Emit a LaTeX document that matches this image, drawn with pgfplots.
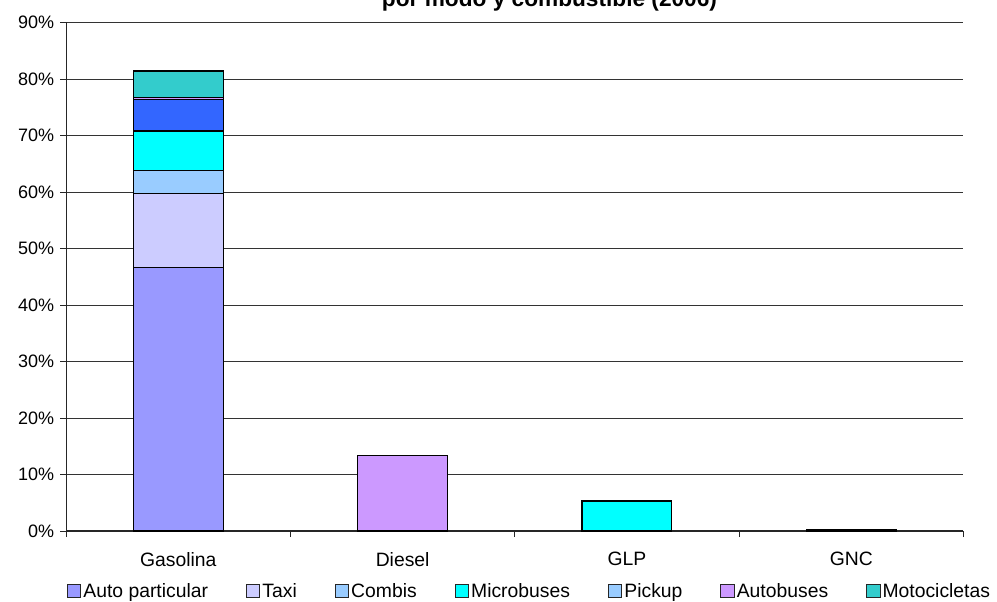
\documentclass[border=0pt]{standalone}
\usepackage{pgfplots}
\pgfplotsset{compat=1.18}
\usepackage{fontspec}
\setmainfont{Liberation Sans}
\definecolor{cAuto}{HTML}{9999FF}
\definecolor{cTaxi}{HTML}{CCCCFF}
\definecolor{cCombis}{HTML}{99CCFF}
\definecolor{cMicro}{HTML}{00FFFF}
\definecolor{cPickup}{HTML}{3366FF}
\definecolor{cAutob}{HTML}{CC99FF}
\definecolor{cMoto}{HTML}{33CCCC}
\begin{document}
\begin{tikzpicture}
\path[use as bounding box] (0pt,0pt) rectangle (747.75pt,450.75pt);
\begin{axis}[
  at={(49.65pt,52.5pt)}, anchor=south west,
  scale only axis, width=672.9pt, height=381.4pt,
  ybar stacked, bar width=0.4,
  xmin=-0.5, xmax=3.5, ymin=0, ymax=90,
  xtick={0,1,2,3}, xticklabels={Gasolina,Diesel,GLP,GNC},
  major x tick style={draw=none},
  minor xtick={-0.5,0.5,1.5,2.5,3.5},
  ytick={0,10,...,90},
  yticklabel={\pgfmathprintnumber{\tick}\%},
  /pgf/number format/assume math mode=true,
  ymajorgrids, grid style={black!80, line width=0.6pt},
  axis x line*=bottom, axis y line*=left,
  axis line style={black!85, line width=0.8pt, -},
  tick align=outside,
  major tick length=4.5pt, minor tick length=4.5pt,
  tick style={black!85, line width=0.7pt},
  xticklabel style={font=\fontsize{14.5}{17}\selectfont, yshift=-8pt},
  yticklabel style={font=\fontsize{13.5}{16}\selectfont, xshift=-1pt},
  every axis plot/.append style={draw=black, line width=0.9pt},
  legend columns=-1,
  legend style={draw=none, at={(0.5164,-0.118)}, anchor=center,
    font=\fontsize{14.5}{17}\selectfont,
    nodes={inner xsep=1.5pt},
    /tikz/every even column/.append style={column sep=27pt}},
  legend image code/.code={\draw[#1,draw=black!85,line width=0.8pt] (-1pt,-5pt) rectangle (9pt,5pt);},
]
\addplot[fill=cAuto]   coordinates {(0,46.6) (1,0) (2,0) (3,0.1)};
\addplot[fill=cTaxi]   coordinates {(0,13.2) (1,0) (2,0) (3,0.2)};
\addplot[fill=cCombis] coordinates {(0,4.0) (1,0) (2,0) (3,0)};
\addplot[fill=cMicro]  coordinates {(0,7.0) (1,0) (2,5.3) (3,0)};
\addplot[fill=cPickup, legend image code/.code={\draw[fill=cCombis,draw=black!85,line width=0.8pt] (-1pt,-5pt) rectangle (9pt,5pt);}] coordinates {(0,5.5) (1,0) (2,0) (3,0)};
\addplot[fill=cAutob]  coordinates {(0,0.4) (1,13.3) (2,0) (3,0)};
\addplot[fill=cMoto]   coordinates {(0,4.7) (1,0) (2,0) (3,0)};
\legend{Auto particular,Taxi,Combis,Microbuses,Pickup,Autobuses,Motocicletas}
\end{axis}
\node[anchor=base, font=\bfseries\fontsize{17}{20}\selectfont] at (412.1pt,445.5pt) {por modo y combustible (2006)};
\end{tikzpicture}
\end{document}
